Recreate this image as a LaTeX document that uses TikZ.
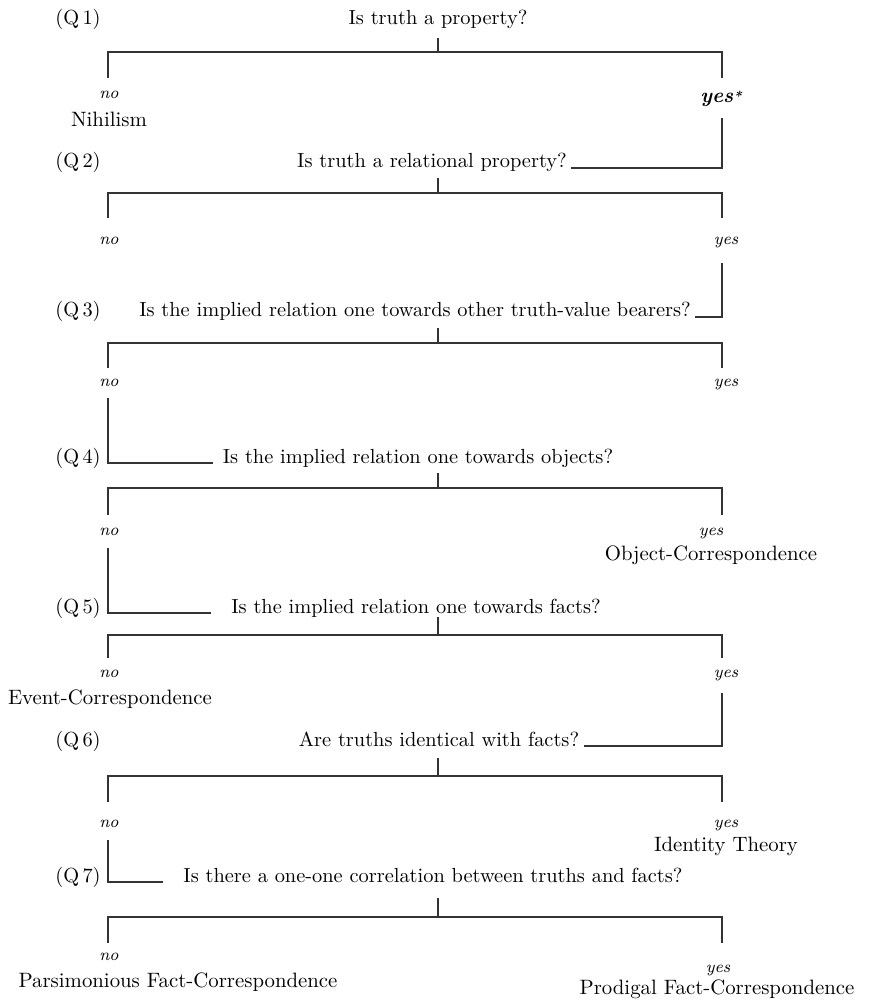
\documentclass[tikz,border=0pt]{standalone}
\usepackage{tikz}

\begin{document}
\begin{tikzpicture}[x=0.5pt,y=-0.5pt,
    line width=0.55pt,draw=black!80,
    question/.style={anchor=base,inner xsep=2pt,font=\fontsize{10.2}{12}\selectfont},
    qlabel/.style={anchor=base,font=\fontsize{10.2}{12}\selectfont},
    outcome/.style={anchor=base,font=\fontsize{10.4}{12}\selectfont},
    answer/.style={anchor=base,font=\fontsize{8.4}{10}\selectfont\itshape}]

  \useasboundingbox (0,0) rectangle (868,1005);

  % (Q 1)
  \node [qlabel] (lab1) at (78,25) {(Q\,1)};
  \node [question] (q1) at (438,25) {Is truth a property?};
  \coordinate (q1t) at (438,38);
  \coordinate (q1l) at (108,52);
  \coordinate (q1r) at (722,52);
  \coordinate (q1a) at (108,78);
  \coordinate (q1b) at (722,78);
  \draw (q1t) -- (q1t |- q1l);
  \draw (q1a) -- (q1l) -- (q1r) -- (q1b);
  \node [answer] (no1) at (109,99) {no};
  \node [outcome] (nihilism) at (109,127) {Nihilism};
  \node [anchor=base,font=\fontsize{10.4}{12}\selectfont\bfseries\itshape]
        (yes1) at (721,103) {yes\raisebox{0.2ex}{\fontsize{7}{8}\selectfont *}};
  \coordinate (q1c) at (722,118);

  % (Q 2)
  \node [qlabel] (lab2) at (78,168) {(Q\,2)};
  \node [question] (q2) at (432,168) {Is truth a relational property?};
  \draw (q1c) |- (q2.base east);
  \coordinate (q2t) at (438,178);
  \coordinate (q2l) at (108,193);
  \coordinate (q2r) at (722,193);
  \coordinate (q2a) at (108,218);
  \coordinate (q2b) at (722,218);
  \draw (q2t) -- (q2t |- q2l);
  \draw (q2a) -- (q2l) -- (q2r) -- (q2b);
  \node [answer] (no2) at (109,245) {no};
  \node [answer] (yes2) at (726,245) {yes};
  \coordinate (q2c) at (722,263);

  % (Q 3)
  \node [qlabel] (lab3) at (78,317) {(Q\,3)};
  \node [question] (q3) at (415,317)
        {Is the implied relation one towards other truth-value bearers?};
  \draw (q2c) |- (q3.base east);
  \coordinate (q3t) at (438,328);
  \coordinate (q3l) at (108,343);
  \coordinate (q3r) at (722,343);
  \coordinate (q3a) at (108,368);
  \coordinate (q3b) at (722,368);
  \draw (q3t) -- (q3t |- q3l);
  \draw (q3a) -- (q3l) -- (q3r) -- (q3b);
  \node [answer] (no3) at (109,386) {no};
  \node [answer] (yes3) at (726,386) {yes};
  \coordinate (q3c) at (108,398);

  % (Q 4)
  \node [qlabel] (lab4) at (78,463) {(Q\,4)};
  \node [question] (q4) at (418,463) {Is the implied relation one towards objects?};
  \draw (q3c) |- ([xshift=-2.5pt]q4.base west);
  \coordinate (q4t) at (438,473);
  \coordinate (q4l) at (108,488);
  \coordinate (q4r) at (722,488);
  \coordinate (q4a) at (108,515);
  \coordinate (q4b) at (722,515);
  \draw (q4t) -- (q4t |- q4l);
  \draw (q4a) -- (q4l) -- (q4r) -- (q4b);
  \node [answer] (no4) at (109,535) {no};
  \node [answer] (yes4) at (711,535) {yes};
  \node [outcome] (objCorr) at (711,560) {Object-Correspondence};
  \coordinate (q4c) at (108,548);

  % (Q 5)
  \node [qlabel] (lab5) at (78,613) {(Q\,5)};
  \node [question] (q5) at (416,613) {Is the implied relation one towards facts?};
  \draw (q4c) |- ([xshift=-8pt]q5.base west);
  \coordinate (q5t) at (438,617);
  \coordinate (q5l) at (108,635);
  \coordinate (q5r) at (722,635);
  \coordinate (q5a) at (108,658);
  \coordinate (q5b) at (722,658);
  \draw (q5t) -- (q5t |- q5l);
  \draw (q5a) -- (q5l) -- (q5r) -- (q5b);
  \node [answer] (no5) at (109,677) {no};
  \node [answer] (yes5) at (726,677) {yes};
  \node [outcome] (eventCorr) at (110,704) {Event-Correspondence};
  \coordinate (q5c) at (722,693);

  % (Q 6)
  \node [qlabel] (lab6) at (78,746) {(Q\,6)};
  \node [question] (q6) at (439,746) {Are truths identical with facts?};
  \draw (q5c) |- (q6.base east);
  \coordinate (q6t) at (438,758);
  \coordinate (q6l) at (108,776);
  \coordinate (q6r) at (722,776);
  \coordinate (q6a) at (108,802);
  \coordinate (q6b) at (722,802);
  \draw (q6t) -- (q6t |- q6l);
  \draw (q6a) -- (q6l) -- (q6r) -- (q6b);
  \node [answer] (no6) at (109,827) {no};
  \node [answer] (yes6) at (726,827) {yes};
  \node [outcome] (identity) at (726,851) {Identity Theory};
  \coordinate (q6c) at (108,840);

  % (Q 7)
  \node [qlabel] (lab7) at (78,882) {(Q\,7)};
  \node [question] (q7) at (433,882)
        {Is there a one-one correlation between truths and facts?};
  \draw (q6c) |- ([xshift=-8pt]q7.base west);
  \coordinate (q7t) at (438,898);
  \coordinate (q7l) at (108,917);
  \coordinate (q7r) at (722,917);
  \coordinate (q7a) at (108,943);
  \coordinate (q7b) at (722,943);
  \draw (q7t) -- (q7t |- q7l);
  \draw (q7a) -- (q7l) -- (q7r) -- (q7b);
  \node [answer] (no7) at (109,960) {no};
  \node [answer] (yes7) at (718,972) {yes};
  \node [outcome] (parsFact) at (178,987) {Parsimonious Fact-Correspondence};
  \node [outcome] (prodFact) at (717,994) {Prodigal Fact-Correspondence};

\end{tikzpicture}
\end{document}
